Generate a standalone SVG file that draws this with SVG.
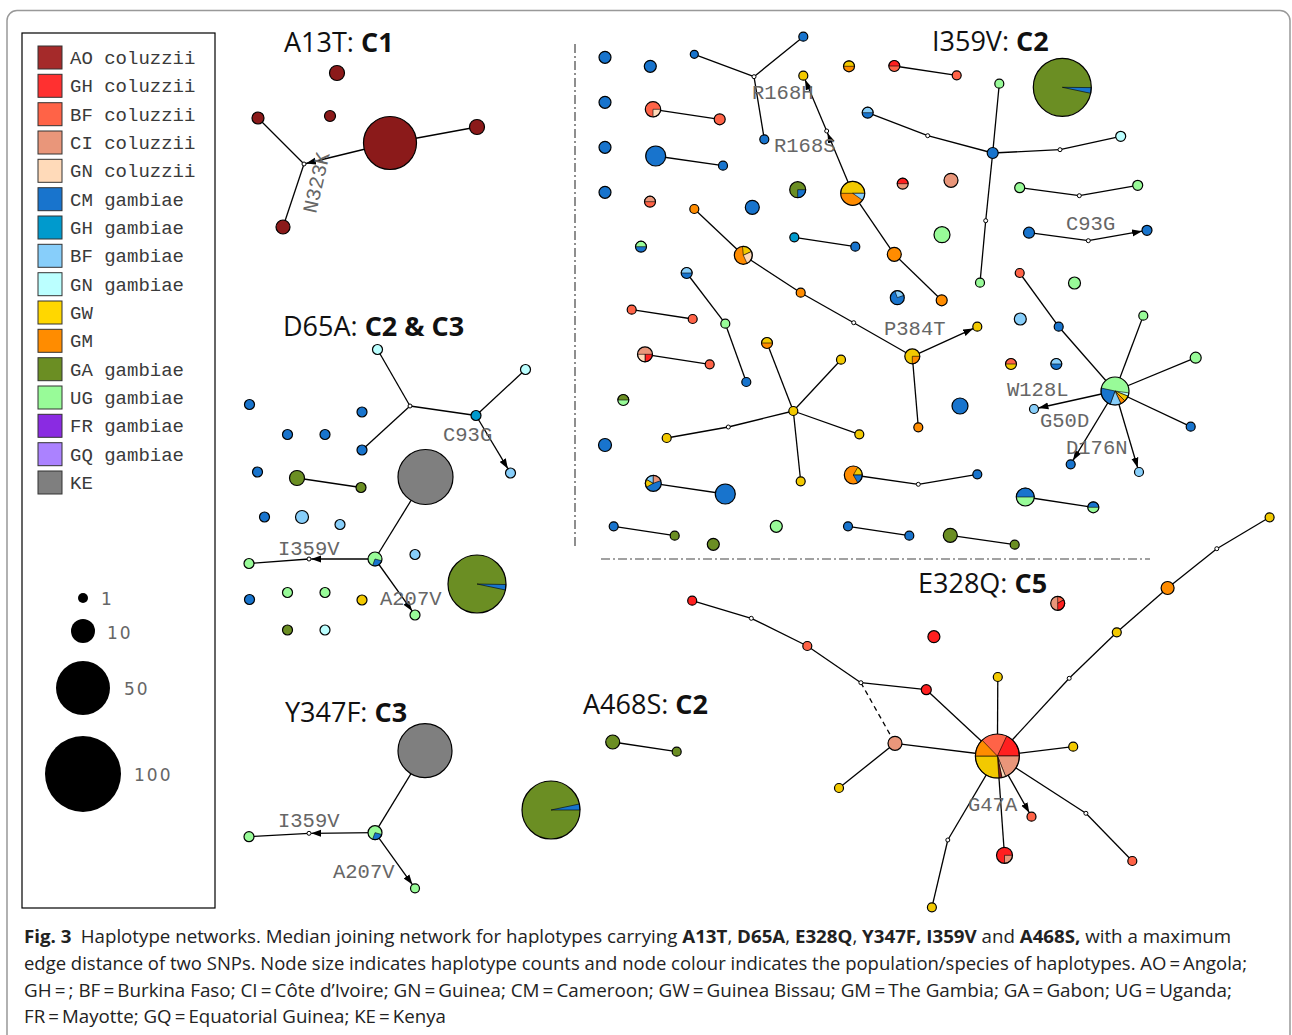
<svg xmlns="http://www.w3.org/2000/svg" width="1292" height="1035" viewBox="0 0 1292 1035">
<defs>
<style>
.n{stroke:#000;stroke-width:1.2}
.o{fill:none;stroke:#000;stroke-width:1.2}
.w{stroke:#000;stroke-width:0.6}
.m{fill:#fff;stroke:#000;stroke-width:1}
.e{stroke:#000;stroke-width:1.3;fill:none}
.dd{stroke:#444;stroke-width:1.2;stroke-dasharray:9,3,2,3;fill:none}
.ao{fill:#8b1a1a}.ghc{fill:#ff2020}.bfc{fill:#ff6347}.cic{fill:#e9967a}.gnc{fill:#ffdab9}
.cm{fill:#1874cd}.ghg{fill:#009acd}.bfg{fill:#87cefa}.gng{fill:#bbffff}.gw{fill:#f2c900}
.gm{fill:#ff8c00}.ga{fill:#6b8e23}.ug{fill:#98fb98}.ke{fill:#7f7f7f}
.lbl{font-family:"Liberation Mono","DejaVu Sans Mono",monospace;font-size:20.5px;fill:#666}
.ttl{font-family:"Open Sans","DejaVu Sans",sans-serif;font-size:27px;fill:#111}
.lg{font-family:"Liberation Mono","DejaVu Sans Mono",monospace;font-size:19px;fill:#3a3a3a}
.sq{stroke:#333;stroke-width:1}
.sz{font-family:"DejaVu Sans","Liberation Sans",sans-serif;font-size:17px;fill:#666;letter-spacing:2px}
.cap{font-family:"Open Sans","Liberation Sans",sans-serif;font-size:18px;fill:#222}
</style>
<marker id="arr" markerUnits="userSpaceOnUse" markerWidth="11" markerHeight="8" refX="10" refY="4" orient="auto">
<path d="M0,0.5 L10,4 L0,7.5 z" fill="#000"/>
</marker>
</defs>
<rect width="1292" height="1035" fill="#fff"/>
<rect x="7" y="10.5" width="1283" height="1045" rx="10" fill="none" stroke="#999" stroke-width="1.5"/>

<!-- Legend -->
<g id="legend">
<rect x="22" y="33" width="193" height="875" fill="#fff" stroke="#000" stroke-width="1.2"/>
<g id="lg-ao-col"><rect class="sq" x="38" y="46" width="24" height="23" fill="#a52a2a"/><text class="lg" x="70" y="64">AO coluzzii</text></g>
<g id="lg-gh-col"><rect class="sq" x="38" y="74.3" width="24" height="23" fill="#ff3030"/><text class="lg" x="70" y="92.3">GH coluzzii</text></g>
<g id="lg-bf-col"><rect class="sq" x="38" y="102.7" width="24" height="23" fill="#ff6347"/><text class="lg" x="70" y="120.7">BF coluzzii</text></g>
<g id="lg-ci-col"><rect class="sq" x="38" y="131" width="24" height="23" fill="#e9967a"/><text class="lg" x="70" y="149">CI coluzzii</text></g>
<g id="lg-gn-col"><rect class="sq" x="38" y="159.3" width="24" height="23" fill="#ffdab9"/><text class="lg" x="70" y="177.3">GN coluzzii</text></g>
<g id="lg-cm-gam"><rect class="sq" x="38" y="187.7" width="24" height="23" fill="#1874cd"/><text class="lg" x="70" y="205.7">CM gambiae</text></g>
<g id="lg-gh-gam"><rect class="sq" x="38" y="216" width="24" height="23" fill="#009acd"/><text class="lg" x="70" y="234">GH gambiae</text></g>
<g id="lg-bf-gam"><rect class="sq" x="38" y="244.3" width="24" height="23" fill="#87cefa"/><text class="lg" x="70" y="262.3">BF gambiae</text></g>
<g id="lg-gn-gam"><rect class="sq" x="38" y="272.7" width="24" height="23" fill="#bbffff"/><text class="lg" x="70" y="290.7">GN gambiae</text></g>
<g id="lg-gw"><rect class="sq" x="38" y="301" width="24" height="23" fill="#ffd700"/><text class="lg" x="70" y="319">GW</text></g>
<g id="lg-gm"><rect class="sq" x="38" y="329.3" width="24" height="23" fill="#ff8c00"/><text class="lg" x="70" y="347.3">GM</text></g>
<g id="lg-ga-gam"><rect class="sq" x="38" y="357.7" width="24" height="23" fill="#6b8e23"/><text class="lg" x="70" y="375.7">GA gambiae</text></g>
<g id="lg-ug-gam"><rect class="sq" x="38" y="386" width="24" height="23" fill="#98fb98"/><text class="lg" x="70" y="404">UG gambiae</text></g>
<g id="lg-fr-gam"><rect class="sq" x="38" y="414.3" width="24" height="23" fill="#8a2be2"/><text class="lg" x="70" y="432.3">FR gambiae</text></g>
<g id="lg-gq-gam"><rect class="sq" x="38" y="442.7" width="24" height="23" fill="#ab82ff"/><text class="lg" x="70" y="460.7">GQ gambiae</text></g>
<g id="lg-ke"><rect class="sq" x="38" y="471" width="24" height="23" fill="#7f7f7f"/><text class="lg" x="70" y="489">KE</text></g>
<g id="size-1"><circle cx="83" cy="598" r="5" fill="#000"/><text class="sz" x="101" y="605">1</text></g>
<g id="size-10"><circle cx="83" cy="631" r="12" fill="#000"/><text class="sz" x="107" y="639">10</text></g>
<g id="size-50"><circle cx="83" cy="688" r="27" fill="#000"/><text class="sz" x="124" y="695">50</text></g>
<g id="size-100"><circle cx="83" cy="774" r="38" fill="#000"/><text class="sz" x="134" y="781">100</text></g>
</g>

<!-- Titles -->
<g id="titles">
<text class="ttl" x="284" y="52">A13T: <tspan font-weight="bold">C1</tspan></text>
<text class="ttl" x="283" y="336">D65A: <tspan font-weight="bold">C2 &amp; C3</tspan></text>
<text class="ttl" x="932" y="51">I359V: <tspan font-weight="bold">C2</tspan></text>
<text class="ttl" x="918" y="593">E328Q: <tspan font-weight="bold">C5</tspan></text>
<text class="ttl" x="285" y="722">Y347F: <tspan font-weight="bold">C3</tspan></text>
<text class="ttl" x="583" y="714">A468S: <tspan font-weight="bold">C2</tspan></text>
</g>

<!-- Dividers -->
<g id="dividers">
<line class="dd" x1="575" y1="44" x2="575" y2="549"/>
<line class="dd" x1="601" y1="559" x2="1150" y2="559"/>
</g>

<!-- Connectors -->
<g id="connectors" class="e">
<line x1="258" y1="118" x2="304" y2="164"/>
<line x1="304" y1="164" x2="283" y2="227"/>
<line x1="390" y1="143" x2="477" y2="127"/>
<line x1="390" y1="143" x2="305.9" y2="163.5" marker-end="url(#arr)"/>

<line x1="377.5" y1="349.5" x2="410" y2="406"/>
<line x1="410" y1="406" x2="362" y2="450"/>
<line x1="410" y1="406" x2="476" y2="415.5"/>
<line x1="476" y1="415.5" x2="525.5" y2="369.5"/>
<line x1="476" y1="415.5" x2="507.9" y2="468.7" marker-end="url(#arr)"/>
<line x1="297" y1="478" x2="361" y2="487.5"/>
<line x1="425.5" y1="477" x2="375" y2="559"/>
<line x1="375" y1="559" x2="311.2" y2="559" marker-end="url(#arr)"/>
<line x1="309" y1="559" x2="249" y2="563.5"/>
<line x1="375" y1="559" x2="412.1" y2="610.9" marker-end="url(#arr)"/>

<line x1="653" y1="109.3" x2="719.7" y2="119.3"/>
<line x1="655.7" y1="156" x2="723" y2="165.7"/>
<line x1="694.3" y1="209" x2="743.3" y2="255.3"/>
<line x1="743.3" y1="255.3" x2="800.7" y2="292.7"/>
<line x1="800.7" y1="292.7" x2="853.7" y2="322.7"/>
<line x1="853.7" y1="322.7" x2="912.3" y2="356.3"/>
<line x1="794.3" y1="237.3" x2="855.3" y2="246.7"/>
<line x1="852.7" y1="193.3" x2="827.5" y2="133" marker-end="url(#arr)"/>
<line x1="826.7" y1="131" x2="805.1" y2="79.8" marker-end="url(#arr)"/>
<line x1="852.7" y1="193.3" x2="894.3" y2="254.3"/>
<line x1="894.3" y1="254.3" x2="941.7" y2="300.3"/>
<line x1="694.3" y1="54.3" x2="754" y2="76.7"/>
<line x1="754" y1="76.7" x2="803.3" y2="36.7"/>
<line x1="754" y1="76.7" x2="764.3" y2="139.3"/>
<line x1="894.3" y1="66" x2="956.7" y2="75.3"/>
<line x1="867.7" y1="112.7" x2="927.7" y2="135.7"/>
<line x1="927.7" y1="135.7" x2="992.7" y2="153"/>
<line x1="992.7" y1="153" x2="999.3" y2="83.7"/>
<line x1="992.7" y1="153" x2="1060" y2="149.7"/>
<line x1="1060" y1="149.7" x2="1120.7" y2="136.3"/>
<line x1="992.7" y1="153" x2="985.7" y2="220.7"/>
<line x1="985.7" y1="220.7" x2="980" y2="282.7"/>
<line x1="1019.7" y1="187.7" x2="1079.3" y2="195.7"/>
<line x1="1079.3" y1="195.7" x2="1137.7" y2="185.3"/>
<line x1="1029" y1="232.7" x2="1088.3" y2="240.7"/>
<line x1="1088.3" y1="240.7" x2="1142.1" y2="231.2" marker-end="url(#arr)"/>
<line x1="1019.7" y1="273" x2="1058.7" y2="326.7"/>
<line x1="1058.7" y1="326.7" x2="1115" y2="391"/>
<line x1="1115" y1="391" x2="1143.3" y2="315.7"/>
<line x1="1115" y1="391" x2="1195.7" y2="357.7"/>
<line x1="1115" y1="391" x2="1190.7" y2="426.7"/>
<line x1="1115" y1="391" x2="1038.4" y2="408" marker-end="url(#arr)"/>
<line x1="1115" y1="391" x2="1073" y2="460.4" marker-end="url(#arr)"/>
<line x1="1115" y1="391" x2="1137.7" y2="467.7" marker-end="url(#arr)"/>
<line x1="912.3" y1="356.3" x2="973.2" y2="328.6" marker-end="url(#arr)"/>
<line x1="912.3" y1="356.3" x2="918.3" y2="427.3"/>
<line x1="631.7" y1="309.7" x2="692.7" y2="319"/>
<line x1="645" y1="354.3" x2="709.7" y2="364.3"/>
<line x1="686.7" y1="273" x2="725.3" y2="323.7"/>
<line x1="725.3" y1="323.7" x2="746.3" y2="382"/>
<line x1="793.3" y1="411" x2="767" y2="343"/>
<line x1="793.3" y1="411" x2="841" y2="359.7"/>
<line x1="793.3" y1="411" x2="859.3" y2="434.3"/>
<line x1="793.3" y1="411" x2="800.7" y2="481.3"/>
<line x1="793.3" y1="411" x2="728.3" y2="427"/>
<line x1="728.3" y1="427" x2="666.7" y2="438"/>
<line x1="653.3" y1="483.3" x2="725.3" y2="494"/>
<line x1="853.3" y1="475" x2="918.3" y2="484.3"/>
<line x1="918.3" y1="484.3" x2="977.3" y2="474.3"/>
<line x1="613.7" y1="526.3" x2="674.7" y2="535.7"/>
<line x1="848" y1="526.3" x2="909.3" y2="535.7"/>
<line x1="1025.3" y1="497" x2="1093.3" y2="507.3"/>
<line x1="950.3" y1="535.3" x2="1014.7" y2="544.7"/>

<line x1="692.2" y1="600.7" x2="751.3" y2="618.3"/>
<line x1="751.3" y1="618.3" x2="807.3" y2="646"/>
<line x1="807.3" y1="646" x2="860.9" y2="682.7"/>
<line x1="860.9" y1="682.7" x2="926.3" y2="689.7"/>
<line x1="926.3" y1="689.7" x2="997.4" y2="756"/>
<line x1="860.9" y1="682.7" x2="895" y2="743.3" stroke-dasharray="5,4"/>
<line x1="895" y1="743.3" x2="839" y2="788"/>
<line x1="895" y1="743.3" x2="997.4" y2="756"/>
<line x1="997.8" y1="677" x2="997.4" y2="756"/>
<line x1="1073.2" y1="746.7" x2="997.4" y2="756"/>
<line x1="997.4" y1="756" x2="1085.9" y2="813.3"/>
<line x1="1085.9" y1="813.3" x2="1132.3" y2="861"/>
<line x1="997.4" y1="756" x2="1004.5" y2="855.3"/>
<line x1="997.4" y1="756" x2="1029.3" y2="812.8" marker-end="url(#arr)"/>
<line x1="997.4" y1="756" x2="947.8" y2="840"/>
<line x1="947.8" y1="840" x2="931.9" y2="907.3"/>
<line x1="997.4" y1="756" x2="1069.2" y2="678.3"/>
<line x1="1069.2" y1="678.3" x2="1116.8" y2="632.3"/>
<line x1="1116.8" y1="632.3" x2="1167.6" y2="588"/>
<line x1="1167.6" y1="588" x2="1216.8" y2="548.7"/>
<line x1="1216.8" y1="548.7" x2="1269.6" y2="517.3"/>

<line x1="425" y1="750.7" x2="375" y2="832.7"/>
<line x1="375" y1="832.7" x2="311.2" y2="833.3" marker-end="url(#arr)"/>
<line x1="309" y1="833.3" x2="249" y2="836.7"/>
<line x1="375" y1="832.7" x2="412.4" y2="884.6" marker-end="url(#arr)"/>
<line x1="612.7" y1="742" x2="676.7" y2="751.7"/>
</g>

<!-- Median vertices -->
<g id="medians" class="m">
<circle cx="304" cy="164" r="2"/>
<circle cx="410" cy="406" r="2"/>
<circle cx="309" cy="559" r="2"/>
<circle cx="826.7" cy="131" r="2"/>
<circle cx="853.7" cy="322.7" r="2"/>
<circle cx="754" cy="76.7" r="2"/>
<circle cx="927.7" cy="135.7" r="2"/>
<circle cx="1060" cy="149.7" r="2"/>
<circle cx="985.7" cy="220.7" r="2"/>
<circle cx="1079.3" cy="195.7" r="2"/>
<circle cx="1088.3" cy="240.7" r="2"/>
<circle cx="728.3" cy="427" r="2"/>
<circle cx="918.3" cy="484.3" r="2"/>
<circle cx="751.3" cy="618.3" r="2"/>
<circle cx="860.9" cy="682.7" r="2"/>
<circle cx="1085.9" cy="813.3" r="2"/>
<circle cx="947.8" cy="840" r="2"/>
<circle cx="1069.2" cy="678.3" r="2"/>
<circle cx="1216.8" cy="548.7" r="2"/>
<circle cx="309" cy="833.3" r="2"/>
</g>

<!-- A13T nodes -->
<g id="a13t-n1"><circle class="n ao" cx="337" cy="73" r="7.5"/></g>
<g id="a13t-n2"><circle class="n ao" cx="330" cy="116" r="5.5"/></g>
<g id="a13t-n3"><circle class="n ao" cx="258" cy="118" r="6"/></g>
<g id="a13t-n4"><circle class="n ao" cx="390" cy="143" r="26.5"/></g>
<g id="a13t-n5"><circle class="n ao" cx="477" cy="127" r="7.5"/></g>
<g id="a13t-n6"><circle class="n ao" cx="283" cy="227" r="7"/></g>

<!-- D65A nodes -->
<g id="d65a-n1"><circle class="n gng" cx="377.5" cy="349.5" r="5"/></g>
<g id="d65a-n2"><circle class="n gng" cx="525.5" cy="369.5" r="5"/></g>
<g id="d65a-n3"><circle class="n ghg" cx="476" cy="415.5" r="5"/></g>
<g id="d65a-n4"><circle class="n cm" cx="362" cy="450" r="5"/></g>
<g id="d65a-n5"><circle class="n bfg" cx="510.5" cy="473" r="5"/></g>
<g id="d65a-n6"><circle class="n cm" cx="249.5" cy="404.5" r="5"/></g>
<g id="d65a-n7"><circle class="n cm" cx="362" cy="412" r="5"/></g>
<g id="d65a-n8"><circle class="n cm" cx="287.5" cy="434.5" r="5"/></g>
<g id="d65a-n9"><circle class="n cm" cx="325" cy="434.5" r="5"/></g>
<g id="d65a-n10"><circle class="n cm" cx="257.5" cy="472" r="5"/></g>
<g id="d65a-n11"><circle class="n cm" cx="264.5" cy="517" r="5"/></g>
<g id="d65a-n12"><circle class="n cm" cx="249.5" cy="599.5" r="5"/></g>
<g id="d65a-n13"><circle class="n ga" cx="297" cy="478" r="7.5"/></g>
<g id="d65a-n14"><circle class="n ga" cx="361" cy="487.5" r="5"/></g>
<g id="d65a-n15"><circle class="n bfg" cx="302" cy="517" r="6.5"/></g>
<g id="d65a-n16"><circle class="n bfg" cx="340" cy="524.5" r="5"/></g>
<g id="d65a-n17"><circle class="n ke" cx="425.5" cy="477" r="27.5"/></g>
<g id="d65a-n18"><circle class="ug" cx="375" cy="559" r="7"/><path class="w cm" d="M375,559 L381.8,560.8 A7,7 0 0,1 372.6,565.6 Z"/><circle class="o" cx="375" cy="559" r="7"/></g>
<g id="d65a-n19"><circle class="n ug" cx="249" cy="563.5" r="5"/></g>
<g id="d65a-n20"><circle class="n ug" cx="415" cy="615" r="5"/></g>
<g id="d65a-n21"><circle class="n bfg" cx="415" cy="554.5" r="5"/></g>
<g id="d65a-n22"><circle class="ga" cx="477" cy="584" r="29"/><path class="w cm" d="M477,584 L506,584.5 A29,29 0 0,1 505.4,590 Z"/><circle class="o" cx="477" cy="584" r="29"/></g>
<g id="d65a-n23"><circle class="n ug" cx="287.5" cy="592.5" r="5"/></g>
<g id="d65a-n24"><circle class="n ug" cx="325" cy="592.5" r="5"/></g>
<g id="d65a-n25"><circle class="n gw" cx="362" cy="600" r="5"/></g>
<g id="d65a-n26"><circle class="n ga" cx="287.5" cy="630" r="5"/></g>
<g id="d65a-n27"><circle class="n gng" cx="325" cy="630" r="5"/></g>

<!-- I359V nodes -->
<g id="i359v-n1"><circle class="n cm" cx="605" cy="57.3" r="6"/></g>
<g id="i359v-n2"><circle class="n cm" cx="650.3" cy="66.3" r="6"/></g>
<g id="i359v-n3"><circle class="n cm" cx="605" cy="102.3" r="6"/></g>
<g id="i359v-n4"><circle class="n cm" cx="605" cy="147.3" r="6"/></g>
<g id="i359v-n5"><circle class="n cm" cx="605" cy="192.3" r="6"/></g>
<g id="i359v-n6"><circle class="bfc" cx="653" cy="109.3" r="7.7"/><path class="w gnc" d="M653,109.3 L660.7,109.3 A7.7,7.7 0 0,1 653,117 Z"/><circle class="o" cx="653" cy="109.3" r="7.7"/></g>
<g id="i359v-n7"><circle class="n bfc" cx="719.7" cy="119.3" r="5.5"/></g>
<g id="i359v-n8"><circle class="n cm" cx="655.7" cy="156" r="10"/></g>
<g id="i359v-n9"><circle class="n cm" cx="723" cy="165.7" r="4.5"/></g>
<g id="i359v-n10"><circle class="bfc" cx="650" cy="201.7" r="5.5"/><path class="w cic" d="M644.5,201.7 A5.5,5.5 0 0,1 655.5,201.7 Z"/><circle class="o" cx="650" cy="201.7" r="5.5"/></g>
<g id="i359v-n11"><circle class="n gm" cx="694.3" cy="209" r="4.5"/></g>
<g id="i359v-n12"><circle class="gm" cx="743.3" cy="255.3" r="9"/><path class="w gw" d="M743.3,255.3 L742.5,246.3 A9,9 0 0,1 751.5,251.5 Z"/><path class="w gnc" d="M743.3,255.3 L751.5,251.5 A9,9 0 0,1 747.1,263.5 Z"/><circle class="o" cx="743.3" cy="255.3" r="9"/></g>
<g id="i359v-n13"><circle class="n gm" cx="800.7" cy="292.7" r="4.5"/></g>
<g id="i359v-n14"><circle class="cm" cx="641" cy="246.7" r="5.5"/><path class="w ug" d="M635.5,246.7 A5.5,5.5 0 0,1 646.5,246.7 Z"/><circle class="o" cx="641" cy="246.7" r="5.5"/></g>
<g id="i359v-n15"><circle class="n ghg" cx="794.3" cy="237.3" r="4.5"/></g>
<g id="i359v-n16"><circle class="n cm" cx="855.3" cy="246.7" r="4.5"/></g>
<g id="i359v-n17"><circle class="n cm" cx="752.3" cy="207.3" r="7"/></g>
<g id="i359v-n18"><circle class="ga" cx="797.7" cy="189.7" r="8"/><path class="w cm" d="M797.7,189.7 L805.7,189.7 A8,8 0 0,1 797.7,197.7 Z"/><circle class="o" cx="797.7" cy="189.7" r="8"/></g>
<g id="i359v-n19"><circle class="gm" cx="852.7" cy="193.3" r="12"/><path class="w gw" d="M840.7,193.3 A12,12 0 0,1 864.7,193.3 Z"/><path class="w bfg" d="M852.7,193.3 L864.7,193.3 A12,12 0 0,1 862.5,200.2 Z"/><circle class="o" cx="852.7" cy="193.3" r="12"/></g>
<g id="i359v-n20"><circle class="n gw" cx="803.3" cy="75.7" r="4.5"/></g>
<g id="i359v-n21"><circle class="n gm" cx="894.3" cy="254.3" r="7"/></g>
<g id="i359v-n22"><circle class="n gm" cx="941.7" cy="300.3" r="5.5"/></g>
<g id="i359v-n23"><circle class="n cm" cx="694.3" cy="54.3" r="4"/></g>
<g id="i359v-n24"><circle class="n cm" cx="803.3" cy="36.7" r="4.5"/></g>
<g id="i359v-n25"><circle class="n cm" cx="764.3" cy="139.3" r="4.5"/></g>
<g id="i359v-n26"><circle class="gm" cx="849" cy="66.3" r="5.5"/><path class="w gw" d="M843.5,66.3 A5.5,5.5 0 0,1 854.5,66.3 Z"/><circle class="o" cx="849" cy="66.3" r="5.5"/></g>
<g id="i359v-n27"><circle class="bfc" cx="894.3" cy="66" r="5.5"/><path class="w ghc" d="M888.8,66 A5.5,5.5 0 0,1 899.8,66 Z"/><circle class="o" cx="894.3" cy="66" r="5.5"/></g>
<g id="i359v-n28"><circle class="n bfc" cx="956.7" cy="75.3" r="4.5"/></g>
<g id="i359v-n29"><circle class="cm" cx="867.7" cy="112.7" r="5.5"/><path class="w bfg" d="M862.2,112.7 A5.5,5.5 0 0,1 873.2,112.7 Z"/><circle class="o" cx="867.7" cy="112.7" r="5.5"/></g>
<g id="i359v-n30"><circle class="n cm" cx="992.7" cy="153" r="5.5"/></g>
<g id="i359v-n31"><circle class="n ug" cx="999.3" cy="83.7" r="4.5"/></g>
<g id="i359v-n32"><circle class="n gng" cx="1120.7" cy="136.3" r="5"/></g>
<g id="i359v-n33"><circle class="n ug" cx="980" cy="282.7" r="4.5"/></g>
<g id="i359v-n34"><circle class="ga" cx="1062.3" cy="87.3" r="29"/><path class="w cm" d="M1062.3,87.3 L1091.3,87.6 A29,29 0 0,1 1090.7,93.3 Z"/><circle class="o" cx="1062.3" cy="87.3" r="29"/></g>
<g id="i359v-n35"><circle class="cic" cx="902.7" cy="183.7" r="5.5"/><path class="w ghc" d="M897.2,183.7 A5.5,5.5 0 0,1 908.2,183.7 Z"/><circle class="o" cx="902.7" cy="183.7" r="5.5"/></g>
<g id="i359v-n36"><circle class="n cic" cx="951" cy="180.3" r="7"/></g>
<g id="i359v-n37"><circle class="n ug" cx="942" cy="234.7" r="8"/></g>
<g id="i359v-n38"><circle class="n ug" cx="1019.7" cy="187.7" r="5"/></g>
<g id="i359v-n39"><circle class="n ug" cx="1137.7" cy="185.3" r="5"/></g>
<g id="i359v-n40"><circle class="n cm" cx="1029" cy="232.7" r="5.5"/></g>
<g id="i359v-n41"><circle class="n cm" cx="1147" cy="230.3" r="5"/></g>
<g id="i359v-n42"><circle class="n bfc" cx="1019.7" cy="273" r="4.5"/></g>
<g id="i359v-n43"><circle class="n cm" cx="1058.7" cy="326.7" r="4.5"/></g>
<g id="i359v-n44"><circle class="n ug" cx="1074.5" cy="283" r="6"/></g>
<g id="i359v-n45"><circle class="n bfg" cx="1020.3" cy="319" r="6"/></g>
<g id="i359v-n46"><circle class="ug" cx="1115" cy="391" r="14"/>
<path class="w gng" d="M1115,391 L1128.9,392.9 A14,14 0 0,1 1128,396.2 Z"/>
<path class="w gw" d="M1115,391 L1128,396.2 A14,14 0 0,1 1124.9,400.9 Z"/>
<path class="w gm" d="M1115,391 L1124.9,400.9 A14,14 0 0,1 1120.9,403.7 Z"/>
<path class="w bfg" d="M1115,391 L1120.9,403.7 A14,14 0 0,1 1110.2,404.2 Z"/>
<path class="w cm" d="M1115,391 L1110.2,404.2 A14,14 0 0,1 1101.3,388.1 Z"/>
<circle class="o" cx="1115" cy="391" r="14"/></g>
<g id="i359v-n47"><circle class="n ug" cx="1143.3" cy="315.7" r="4.5"/></g>
<g id="i359v-n48"><circle class="n ug" cx="1195.7" cy="357.7" r="5.5"/></g>
<g id="i359v-n49"><circle class="n cm" cx="1190.7" cy="426.7" r="4.5"/></g>
<g id="i359v-n50"><circle class="n bfg" cx="1034" cy="409" r="4.5"/></g>
<g id="i359v-n51"><circle class="n cm" cx="1070.7" cy="464.3" r="4.5"/></g>
<g id="i359v-n52"><circle class="n bfg" cx="1139" cy="472" r="4.5"/></g>
<g id="i359v-n53"><circle class="gw" cx="1011" cy="364" r="5.5"/><path class="w bfc" d="M1005.5,364 A5.5,5.5 0 0,1 1016.5,364 Z"/><circle class="o" cx="1011" cy="364" r="5.5"/></g>
<g id="i359v-n54"><circle class="cm" cx="1056.3" cy="364" r="5.5"/><path class="w bfg" d="M1050.8,364 A5.5,5.5 0 0,1 1061.8,364 Z"/><circle class="o" cx="1056.3" cy="364" r="5.5"/></g>
<g id="i359v-n55"><circle class="n cm" cx="960" cy="406" r="8"/></g>
<g id="i359v-n56"><circle class="gw" cx="912.3" cy="356.3" r="7.5"/><path class="w gm" d="M912.3,356.3 L919.8,356.3 A7.5,7.5 0 0,1 912.3,363.8 Z"/><circle class="o" cx="912.3" cy="356.3" r="7.5"/></g>
<g id="i359v-n57"><circle class="n gw" cx="977.3" cy="326.7" r="4.5"/></g>
<g id="i359v-n58"><circle class="n gm" cx="918.3" cy="427.3" r="4.5"/></g>
<g id="i359v-n59"><circle class="cm" cx="897.3" cy="297.7" r="7"/><path class="w bfg" d="M897.3,297.7 L894.9,291.1 A7,7 0 0,1 903.9,295.3 Z"/><circle class="o" cx="897.3" cy="297.7" r="7"/></g>
<g id="i359v-n60"><circle class="n bfc" cx="631.7" cy="309.7" r="4.5"/></g>
<g id="i359v-n61"><circle class="n bfc" cx="692.7" cy="319" r="4.5"/></g>
<g id="i359v-n62"><circle class="cic" cx="645" cy="354.3" r="7.5"/><path class="w ghc" d="M645,354.3 L652.5,354.3 A7.5,7.5 0 0,1 645,361.8 Z"/><path class="w gnc" d="M645,354.3 L645,361.8 A7.5,7.5 0 0,1 637.5,354.3 Z"/><circle class="o" cx="645" cy="354.3" r="7.5"/></g>
<g id="i359v-n63"><circle class="n bfc" cx="709.7" cy="364.3" r="4.5"/></g>
<g id="i359v-n64"><circle class="ug" cx="623.3" cy="400" r="5.5"/><path class="w ga" d="M617.8,400 A5.5,5.5 0 0,1 628.8,400 Z"/><circle class="o" cx="623.3" cy="400" r="5.5"/></g>
<g id="i359v-n65"><circle class="n cm" cx="605" cy="445" r="6.5"/></g>
<g id="i359v-n66"><circle class="cm" cx="686.7" cy="273" r="5.5"/><path class="w bfg" d="M681.2,273 A5.5,5.5 0 0,1 692.2,273 Z"/><circle class="o" cx="686.7" cy="273" r="5.5"/></g>
<g id="i359v-n67"><circle class="n ug" cx="725.3" cy="323.7" r="4.5"/></g>
<g id="i359v-n68"><circle class="n cm" cx="746.3" cy="382" r="4.5"/></g>
<g id="i359v-n69"><circle class="gm" cx="767" cy="343" r="5.5"/><path class="w gw" d="M761.5,343 A5.5,5.5 0 0,1 772.5,343 Z"/><circle class="o" cx="767" cy="343" r="5.5"/></g>
<g id="i359v-n70"><circle class="n gw" cx="793.3" cy="411" r="4.5"/></g>
<g id="i359v-n71"><circle class="n gw" cx="841" cy="359.7" r="4.5"/></g>
<g id="i359v-n72"><circle class="n gw" cx="859.3" cy="434.3" r="4.5"/></g>
<g id="i359v-n73"><circle class="n gw" cx="800.7" cy="481.3" r="4.5"/></g>
<g id="i359v-n74"><circle class="n gw" cx="666.7" cy="438" r="4.5"/></g>
<g id="i359v-n75"><circle class="cm" cx="653.3" cy="483.3" r="8"/>
<path class="w gw" d="M653.3,483.3 L646.4,487.3 A8,8 0 0,1 646.4,479.3 Z"/>
<path class="w bfg" d="M653.3,483.3 L646.4,479.3 A8,8 0 0,1 653.3,475.3 Z"/>
<path class="w cic" d="M653.3,483.3 L653.3,475.3 A8,8 0 0,1 660.8,480.6 Z"/>
<circle class="o" cx="653.3" cy="483.3" r="8"/></g>
<g id="i359v-n76"><circle class="n cm" cx="725.3" cy="494" r="10"/></g>
<g id="i359v-n77"><circle class="gm" cx="853.3" cy="475" r="9"/><path class="w gw" d="M853.3,475 L857.8,467.2 A9,9 0 0,1 862.3,475 Z"/><path class="w cm" d="M853.3,475 L862.3,475 A9,9 0 0,1 857.8,482.8 Z"/><circle class="o" cx="853.3" cy="475" r="9"/></g>
<g id="i359v-n78"><circle class="n cm" cx="977.3" cy="474.3" r="4.5"/></g>
<g id="i359v-n79"><circle class="n cm" cx="613.7" cy="526.3" r="4.5"/></g>
<g id="i359v-n80"><circle class="n ga" cx="674.7" cy="535.7" r="4.5"/></g>
<g id="i359v-n81"><circle class="n ug" cx="776.3" cy="526.3" r="6"/></g>
<g id="i359v-n82"><circle class="n ga" cx="713.3" cy="544.3" r="6"/></g>
<g id="i359v-n83"><circle class="n cm" cx="848" cy="526.3" r="4.5"/></g>
<g id="i359v-n84"><circle class="n cm" cx="909.3" cy="535.7" r="4.5"/></g>
<g id="i359v-n85"><circle class="ug" cx="1025.3" cy="497" r="9"/><path class="w cm" d="M1016.3,497 A9,9 0 0,1 1034.3,497 Z"/><circle class="o" cx="1025.3" cy="497" r="9"/></g>
<g id="i359v-n86"><circle class="ug" cx="1093.3" cy="507.3" r="5.5"/><path class="w cm" d="M1087.8,507.3 A5.5,5.5 0 0,1 1098.8,507.3 Z"/><circle class="o" cx="1093.3" cy="507.3" r="5.5"/></g>
<g id="i359v-n87"><circle class="n ga" cx="950.3" cy="535.3" r="7"/></g>
<g id="i359v-n88"><circle class="n ga" cx="1014.7" cy="544.7" r="4.5"/></g>

<!-- E328Q nodes -->
<g id="e328q-n1"><circle class="n ghc" cx="692.2" cy="600.7" r="4.5"/></g>
<g id="e328q-n2"><circle class="n bfc" cx="807.3" cy="646" r="4.5"/></g>
<g id="e328q-n3"><circle class="n ghc" cx="926.3" cy="689.7" r="5"/></g>
<g id="e328q-n4"><circle class="n cic" cx="895" cy="743.3" r="7"/></g>
<g id="e328q-n5"><circle class="n gw" cx="839" cy="788" r="4.5"/></g>
<g id="e328q-n6"><circle class="n gw" cx="997.8" cy="677" r="4.5"/></g>
<g id="e328q-n7"><circle class="n gw" cx="1073.2" cy="746.7" r="4.5"/></g>
<g id="e328q-n8"><circle class="bfc" cx="997.4" cy="756" r="22"/>
<path class="w ghc" d="M997.4,756 L1006.7,736.1 A22,22 0 0,1 1019.4,756 Z"/>
<path class="w cic" d="M997.4,756 L1019.4,756 A22,22 0 0,1 1005.6,776.4 Z"/>
<path class="w gnc" d="M997.4,756 L1005.6,776.4 A22,22 0 0,1 1002,777.5 Z"/>
<path class="w ao" d="M997.4,756 L1002,777.5 A22,22 0 0,1 998.9,778 Z"/>
<path class="w gw" d="M997.4,756 L998.9,778 A22,22 0 0,1 975.4,756 Z"/>
<path class="w gm" d="M997.4,756 L975.4,756 A22,22 0 0,1 982.1,740.2 Z"/>
<circle class="o" cx="997.4" cy="756" r="22"/></g>
<g id="e328q-n9"><circle class="n bfc" cx="1132.3" cy="861" r="4.5"/></g>
<g id="e328q-n10"><circle class="ghc" cx="1004.5" cy="855.3" r="8"/><path class="w cic" d="M1004.5,855.3 L1012.5,855.3 A8,8 0 0,1 1004.5,863.3 Z"/><circle class="o" cx="1004.5" cy="855.3" r="8"/></g>
<g id="e328q-n11"><circle class="n bfc" cx="1031.5" cy="816.7" r="4.5"/></g>
<g id="e328q-n12"><circle class="n gw" cx="931.9" cy="907.3" r="4.5"/></g>
<g id="e328q-n13"><circle class="n gw" cx="1116.8" cy="632.3" r="4.5"/></g>
<g id="e328q-n14"><circle class="n gm" cx="1167.6" cy="588" r="6.5"/></g>
<g id="e328q-n15"><circle class="n gw" cx="1269.6" cy="517.3" r="4.5"/></g>
<g id="e328q-n16"><circle class="n ghc" cx="933.9" cy="636.7" r="6"/></g>
<g id="e328q-n17"><circle class="cic" cx="1057.7" cy="603.3" r="7"/><path class="w bfc" d="M1057.7,603.3 L1057.7,596.3 A7,7 0 0,1 1063.8,599.8 Z"/><path class="w ghc" d="M1057.7,603.3 L1063.8,599.8 A7,7 0 0,1 1057.7,610.3 Z"/><circle class="o" cx="1057.7" cy="603.3" r="7"/></g>

<!-- Y347F nodes -->
<g id="y347f-n1"><circle class="n ke" cx="425" cy="750.7" r="27"/></g>
<g id="y347f-n2"><circle class="ug" cx="375" cy="832.7" r="7"/><path class="w cm" d="M375,832.7 L381.8,834.5 A7,7 0 0,1 372.6,839.3 Z"/><circle class="o" cx="375" cy="832.7" r="7"/></g>
<g id="y347f-n3"><circle class="n ug" cx="249" cy="836.7" r="5"/></g>
<g id="y347f-n4"><circle class="n ug" cx="415" cy="888.3" r="4.5"/></g>

<!-- A468S nodes -->
<g id="a468s-n1"><circle class="ga" cx="551" cy="810" r="29"/><path class="w cm" d="M551,810 L579.4,804 A29,29 0 0,1 580,810 Z"/><circle class="o" cx="551" cy="810" r="29"/></g>
<g id="a468s-n2"><circle class="n ga" cx="612.7" cy="742" r="7"/></g>
<g id="a468s-n3"><circle class="n ga" cx="676.7" cy="751.7" r="4.5"/></g>

<!-- Mutation labels -->
<g id="labels" class="lbl">
<text x="316" y="214" transform="rotate(-77 316 214)">N323K</text>
<text x="443" y="441">C93G</text>
<text x="278" y="555">I359V</text>
<text x="380" y="605">A207V</text>
<text x="752" y="99">R168H</text>
<text x="774" y="152">R168S</text>
<text x="1066" y="230">C93G</text>
<text x="884" y="335">P384T</text>
<text x="1007" y="396">W128L</text>
<text x="1040" y="427">G50D</text>
<text x="1066" y="454">D176N</text>
<text x="968" y="811">G47A</text>
<text x="278" y="827">I359V</text>
<text x="333" y="878">A207V</text>
</g>

<!-- Caption -->
<g id="caption" class="cap">
<text x="24" y="943" textLength="1207" lengthAdjust="spacingAndGlyphs"><tspan font-weight="bold">Fig. 3</tspan>&#8194;Haplotype networks. Median joining network for haplotypes carrying <tspan font-weight="bold">A13T</tspan>, <tspan font-weight="bold">D65A</tspan>, <tspan font-weight="bold">E328Q</tspan>, <tspan font-weight="bold">Y347F, I359V</tspan> and <tspan font-weight="bold">A468S,</tspan> with a maximum</text>
<text x="24" y="970" textLength="1223" lengthAdjust="spacingAndGlyphs">edge distance of two SNPs. Node size indicates haplotype counts and node colour indicates the population/species of haplotypes. AO&#8201;=&#8201;Angola;</text>
<text x="24" y="997" textLength="1208" lengthAdjust="spacingAndGlyphs">GH&#8201;=&#8201;; BF&#8201;=&#8201;Burkina Faso; CI&#8201;=&#8201;Côte d’Ivoire; GN&#8201;=&#8201;Guinea; CM&#8201;=&#8201;Cameroon; GW&#8201;=&#8201;Guinea Bissau; GM&#8201;=&#8201;The Gambia; GA&#8201;=&#8201;Gabon; UG&#8201;=&#8201;Uganda;</text>
<text x="24" y="1023" textLength="422" lengthAdjust="spacingAndGlyphs">FR&#8201;=&#8201;Mayotte; GQ&#8201;=&#8201;Equatorial Guinea; KE&#8201;=&#8201;Kenya</text>
</g>
</svg>
